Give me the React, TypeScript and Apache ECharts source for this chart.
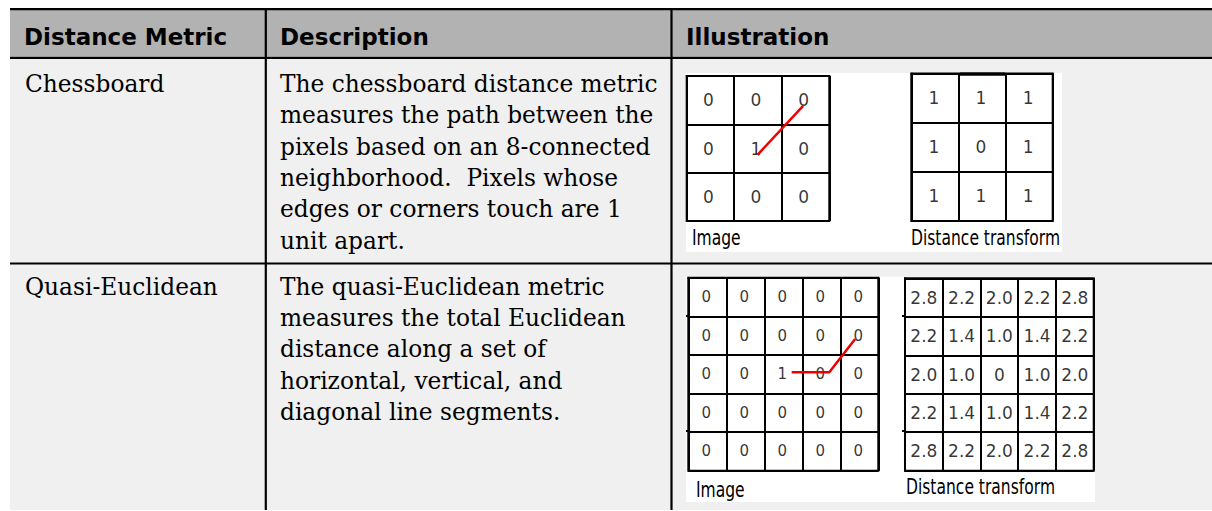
import React, { useEffect, useRef } from "react";
import * as echarts from "echarts";

// ---------- data ----------
const HEADERS = ["Distance Metric", "Description", "Illustration"];
const METRICS = ["Chessboard", "Quasi-Euclidean"];
const DESCRIPTIONS = [
  [
    "The chessboard distance metric",
    "measures the path between the",
    "pixels based on an 8-connected",
    "neighborhood.  Pixels whose",
    "edges or corners touch are 1",
    "unit apart.",
  ],
  [
    "The quasi-Euclidean metric",
    "measures the total Euclidean",
    "distance along a set of",
    "horizontal, vertical, and",
    "diagonal line segments.",
  ],
];
const PANEL_LABELS = ["Image", "Distance transform"];

const CHESS_IMAGE = [
  ["0", "0", "0"],
  ["0", "1", "0"],
  ["0", "0", "0"],
];
const CHESS_DT = [
  ["1", "1", "1"],
  ["1", "0", "1"],
  ["1", "1", "1"],
];
const QUASI_IMAGE = [
  ["0", "0", "0", "0", "0"],
  ["0", "0", "0", "0", "0"],
  ["0", "0", "1", "0", "0"],
  ["0", "0", "0", "0", "0"],
  ["0", "0", "0", "0", "0"],
];
const QUASI_DT = [
  ["2.8", "2.2", "2.0", "2.2", "2.8"],
  ["2.2", "1.4", "1.0", "1.4", "2.2"],
  ["2.0", "1.0", "0", "1.0", "2.0"],
  ["2.2", "1.4", "1.0", "1.4", "2.2"],
  ["2.8", "2.2", "2.0", "2.2", "2.8"],
];
// red paths, in cell units (column, row)
const CHESS_PATH = [
  [1.49, 1.63],
  [2.45, 0.62],
];
const QUASI_PATH = [
  [2.72, 2.45],
  [3.71, 2.45],
  [4.39, 1.59],
];

// ---------- layout ----------
const W = 1212;
const H = 511;
const T_LEFT = 10;
const HEAD_TOP = 10;
const HEAD_BOTTOM = 56.8;
const ROW_DIV = 262.4;
const COL1 = 264.7;
const COL2 = 670.4;
const BODY_FONT = "'DejaVu Serif', serif";
const HEAD_FONT = "'DejaVu Sans', sans-serif";
const CENTRAL = 0.346;

const PANELS = [
  { cells: CHESS_IMAGE, left: 686.7, top: 76, width: 142.6, height: 145, fs: 17, dx: -2, path: CHESS_PATH },
  { cells: CHESS_DT, left: 911.3, top: 73.6, width: 141.4, height: 147.4, fs: 17, dx: -1, path: null },
  { cells: QUASI_IMAGE, left: 688.3, top: 277.7, width: 190, height: 193, fs: 15, dx: -1, path: QUASI_PATH },
  { cells: QUASI_DT, left: 905, top: 278.3, width: 188.7, height: 192.4, fs: 17, dx: 0, path: null },
];

function textAt(text: string, x: number, baseline: number, fs: number, font: string, weight: string | number = "normal", scaleX = 1) {
  return {
    type: "text",
    x,
    y: baseline - CENTRAL * fs,
    scaleX,
    z: 20,
    silent: true,
    style: {
      x: 0,
      y: 0,
      text,
      fill: "#000",
      fontSize: fs,
      fontFamily: font,
      fontWeight: weight,
      textAlign: "left",
      textVerticalAlign: "middle",
      verticalAlign: "middle",
    },
  };
}

function rect(x: number, y: number, w: number, h: number, fill: string, z: number) {
  return { type: "rect", z, silent: true, shape: { x, y, width: w, height: h }, style: { fill } };
}

export default function App() {
  const ref = useRef<HTMLDivElement>(null);

  useEffect(() => {
    if (!ref.current) return;
    const chart = echarts.init(ref.current, null, { renderer: "svg" });

    const elements: any[] = [];
    // table backgrounds
    elements.push(rect(T_LEFT, HEAD_TOP, W - T_LEFT, HEAD_BOTTOM - HEAD_TOP, "#b2b2b2", -10));
    elements.push(rect(T_LEFT, HEAD_BOTTOM, W - T_LEFT, H - 1 - HEAD_BOTTOM, "#f0f0f0", -10));
    // white illustration boxes
    elements.push(rect(686, 73, 376, 179, "#ffffff", -9));
    elements.push(rect(686, 276.7, 409, 225.3, "#ffffff", -9));
    // rules
    elements.push(rect(T_LEFT, 8, W - T_LEFT, 2.2, "#000", 15));
    elements.push(rect(T_LEFT, HEAD_BOTTOM, W - T_LEFT, 2.2, "#000", 15));
    elements.push(rect(T_LEFT, ROW_DIV, W - T_LEFT, 2.2, "#000", 15));
    elements.push(rect(COL1, 8, 2.2, H - 9, "#000", 15));
    elements.push(rect(COL2, 8, 2.2, H - 9, "#000", 15));
    // thick top segment on the chessboard distance transform
    elements.push(rect(960, 72.4, 45, 3.4, "#000", 15));
    // small tick extensions on the quasi-Euclidean grids
    elements.push(rect(686, 315, 3, 2, "#000", 15));
    elements.push(rect(686, 430, 3, 2, "#000", 15));
    elements.push(rect(902, 315, 3, 2, "#000", 15));
    elements.push(rect(902, 430, 3, 2, "#000", 15));

    // header texts
    const headX = [24, 280, 686];
    HEADERS.forEach((h, i) => elements.push(textAt(h, headX[i], 45, 23, HEAD_FONT, "bold")));

    // body texts
    const rowBase = [91.7, 294.2];
    const lineGap = 31.3;
    METRICS.forEach((m, r) => {
      elements.push(textAt(m, 25, rowBase[r], 23.3, BODY_FONT));
      DESCRIPTIONS[r].forEach((line, k) => elements.push(textAt(line, 280, rowBase[r] + k * lineGap, 23.3, BODY_FONT)));
    });

    // panel labels
    const labelPos = [
      [692, 245],
      [911, 245],
      [696, 496.5],
      [906, 494],
    ];
    labelPos.forEach((p, i) => elements.push(textAt(PANEL_LABELS[i % 2], p[0], p[1], 21, HEAD_FONT, "normal", 0.74)));

    const grids = PANELS.map((p) => ({
      left: p.left,
      top: p.top,
      width: p.width,
      height: p.height,
      show: true,
      borderColor: "#000",
      borderWidth: 2,
      backgroundColor: "transparent",
      containLabel: false,
    }));
    const axisCommon = (n: number, i: number) => ({
      type: "value",
      gridIndex: i,
      min: 0,
      max: n,
      interval: 1,
      axisLine: { show: true, lineStyle: { color: "#000", width: 2 } },
      axisTick: { show: false },
      axisLabel: { show: false },
      splitLine: { show: true, lineStyle: { color: "#000", width: 2 } },
    });
    const xAxis = PANELS.map((p, i) => axisCommon(p.cells[0].length, i));
    const yAxis = PANELS.map((p, i) => ({ ...axisCommon(p.cells.length, i), inverse: true }));

    const series: any[] = [];
    PANELS.forEach((p, i) => {
      const data: any[] = [];
      p.cells.forEach((row, r) => row.forEach((v, c) => data.push([c + 0.5, r + 0.5, v])));
      series.push({
        type: "scatter",
        xAxisIndex: i,
        yAxisIndex: i,
        data,
        symbolSize: 1,
        silent: true,
        itemStyle: { color: "rgba(0,0,0,0)" },
        label: {
          show: true,
          position: "inside",
          offset: [p.dx, 0],
          formatter: (q: any) => q.value[2],
          fontFamily: HEAD_FONT,
          fontSize: p.fs,
          color: "#000",
        },
        z: 3,
      });
      if (p.path) {
        series.push({
          type: "line",
          xAxisIndex: i,
          yAxisIndex: i,
          data: p.path,
          symbol: "none",
          silent: true,
          lineStyle: { color: "#ee0000", width: 2.5 },
          z: 5,
        });
      }
    });

    chart.setOption({
      animation: false,
      backgroundColor: "#ffffff",
      grid: grids,
      xAxis,
      yAxis,
      series,
      graphic: { elements },
    });

    return () => chart.dispose();
  }, []);

  return (
    <div
      ref={ref}
      style={{ position: "fixed", left: 0, top: 0, width: W, height: H }}
    />
  );
}
